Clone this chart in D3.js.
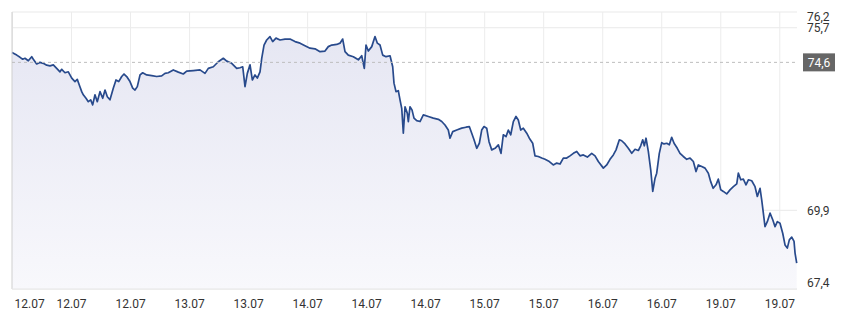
<!DOCTYPE html>
<html>
<head>
<meta charset="utf-8">
<script src="https://cdnjs.cloudflare.com/ajax/libs/d3/7.8.5/d3.min.js"></script>
<style>
  body { margin: 0; background: #fff; }
  .axis text { font-family: Roboto, sans-serif; font-size: 12px; fill: #333; }
  .axis .domain { display: none; }
</style>
</head>
<body>
<div id="chart"></div>
<script>
// x ticks: one label per grid interval
const tickLabels = ["12.07", "12.07", "12.07", "13.07", "13.07", "14.07", "14.07",
    "14.07", "15.07", "15.07", "16.07", "16.07", "19.07", "19.07"];
const yTicks = [76.2, 75.7, 69.9, 67.4];
const yDomain = [67.4, 76.2];
const refValue = 74.6;

// time in grid-interval units, price
const times = [
    0, 0.08, 0.136, 0.181, 0.22, 0.276, 0.334, 0.361, 0.418, 0.474, 0.53, 0.588, 0.644, 0.70, 0.757,
    0.813, 0.842, 0.898, 0.954, 1.012, 1.067, 1.106, 1.14, 1.181, 1.208, 1.254, 1.293, 1.333, 1.367,
    1.406, 1.445, 1.491, 1.537, 1.576, 1.615, 1.66, 1.716, 1.762, 1.808, 1.859, 1.898, 1.943, 1.999,
    2.045, 2.084, 2.123, 2.169, 2.214, 2.282, 2.367, 2.452, 2.536, 2.592, 2.648, 2.733, 2.818, 2.902,
    2.96, 3.072, 3.185,
    3.270, 3.326, 3.411, 3.495, 3.580, 3.638, 3.722, 3.807, 3.863, 3.909, 3.948, 3.987, 4.033, 4.072,
    4.117, 4.156, 4.202, 4.231, 4.270, 4.315, 4.371, 4.417, 4.473, 4.541, 4.626, 4.710, 4.795, 4.880,
    4.964, 5.049, 5.134, 5.219, 5.303, 5.359, 5.417, 5.502, 5.557, 5.603, 5.642, 5.698, 5.783, 5.868,
    5.925, 5.969, 5.998, 6.037, 6.095, 6.150, 6.190, 6.235, 6.281, 6.337, 6.405,
    6.450, 6.472, 6.506, 6.545, 6.574, 6.603, 6.630, 6.659, 6.698, 6.715, 6.743, 6.777, 6.811, 6.857,
    6.913, 6.969, 7.054, 7.138, 7.223, 7.281, 7.336, 7.392, 7.421, 7.467, 7.535, 7.619, 7.692, 7.748,
    7.789, 7.828, 7.874, 7.918, 7.958, 7.997, 8.043, 8.082, 8.128, 8.184, 8.240, 8.285, 8.324, 8.370,
    8.409, 8.450, 8.494, 8.539, 8.578, 8.619, 8.663, 8.721, 8.765, 8.822, 8.861, 8.917, 8.975, 9.031,
    9.104, 9.171, 9.229, 9.285, 9.341, 9.398, 9.454, 9.511, 9.568, 9.624, 9.680, 9.748, 9.822, 9.878,
    9.934,
    10.019, 10.076, 10.132, 10.188, 10.234, 10.290, 10.330, 10.386, 10.442, 10.500, 10.556, 10.612,
    10.652, 10.686, 10.713, 10.742, 10.781, 10.822, 10.856, 10.895, 10.923, 10.967, 11.008, 11.047,
    11.093, 11.137, 11.177, 11.217, 11.272, 11.318, 11.374, 11.432, 11.488, 11.544, 11.589, 11.628,
    11.686, 11.742, 11.798, 11.838, 11.879, 11.928, 11.967, 12.008, 12.052, 12.109, 12.165, 12.222,
    12.279, 12.306, 12.347, 12.391, 12.436, 12.476, 12.533, 12.589, 12.628, 12.674, 12.702, 12.730,
    12.758, 12.797, 12.843, 12.889, 12.928, 12.967, 13.012, 13.058, 13.097, 13.136, 13.170, 13.211,
    13.250, 13.267, 13.295
];
const prices = [
    74.91, 74.83, 74.76, 74.70, 74.73, 74.65, 74.78, 74.70, 74.55, 74.60, 74.57, 74.51, 74.49, 74.52,
    74.41, 74.30, 74.38, 74.27, 74.30, 74.10, 73.99, 74.06, 73.88, 73.67, 73.57, 73.46, 73.35, 73.41,
    73.25, 73.57, 73.35, 73.67, 73.46, 73.72, 73.51, 73.41, 73.78, 74.04, 73.99, 74.15, 74.23, 74.15,
    73.99, 73.78, 73.72, 73.83, 74.20, 74.27, 74.20, 74.18, 74.15, 74.17, 74.25, 74.27, 74.36, 74.29,
    74.23, 74.32, 74.34, 74.36,
    74.25, 74.41, 74.46, 74.62, 74.73, 74.64, 74.57, 74.41, 74.43, 74.46, 73.83, 74.25, 74.52, 74.04,
    74.20, 74.10, 74.30, 74.73, 75.15, 75.31, 75.42, 75.26, 75.37, 75.31, 75.34, 75.34, 75.26, 75.21,
    75.13, 75.05, 75.03, 74.94, 74.96, 75.10, 75.15, 75.17, 75.21, 75.34, 74.94, 74.83, 74.78, 74.68,
    74.81, 74.41, 75.15, 74.96, 75.10, 75.42, 75.21, 75.15, 74.83, 74.78, 74.81,
    74.46, 73.94, 73.67, 73.70, 73.41, 73.14, 72.35, 73.19, 72.98, 72.72, 73.19, 73.09, 72.83, 72.75,
    72.72, 72.93, 72.88, 72.83, 72.79, 72.72, 72.61, 72.45, 72.19, 72.40, 72.45, 72.51, 72.54, 72.56,
    72.35, 72.14, 71.87, 72.03, 72.45, 72.56, 72.51, 72.08, 71.82, 71.87, 71.98, 71.71, 72.30, 72.24,
    72.45, 72.30, 72.72, 72.88, 72.77, 72.45, 72.51, 72.35, 72.19, 72.03, 71.63, 71.61, 71.56, 71.52,
    71.45, 71.34, 71.40, 71.37, 71.56, 71.56, 71.63, 71.71, 71.77, 71.63, 71.66, 71.59, 71.71, 71.63,
    71.45,
    71.24, 71.34, 71.52, 71.66, 71.82, 72.14, 72.11, 72.01, 71.87, 71.71, 71.84, 71.80, 71.95, 72.14,
    71.95, 72.19, 71.77, 71.18, 70.50, 70.92, 71.08, 71.71, 72.05, 72.01, 72.03, 71.98, 72.22, 72.03,
    71.87, 71.71, 71.61, 71.52, 71.56, 71.45, 71.13, 71.34, 71.29, 71.24, 71.08, 70.81, 70.60, 70.71,
    70.89, 70.55, 70.50, 70.42, 70.55, 70.65, 70.74, 71.08, 70.87, 70.89, 70.71, 70.87, 70.84, 70.65,
    70.34, 70.60, 70.23, 69.81, 69.38, 69.54, 69.81, 69.60, 69.38, 69.54, 69.49, 69.17, 68.80, 68.70,
    68.96, 69.05, 68.91, 68.54, 68.22
];

const data = d3.zip(times, prices);

const margin = {top: 12, right: 46, bottom: 30, left: 12};
const width = 843 - margin.left - margin.right;
const height = 319 - margin.top - margin.bottom;

const svg = d3.select("#chart").append("svg")
    .attr("width", 843)
    .attr("height", 319)
    .append("g")
    .attr("transform", `translate(${margin.left},${margin.top})`);

const x = d3.scaleLinear().domain([0, 13.3]).range([0, width]);
const y = d3.scaleLinear().domain(yDomain).range([height, 0]);

// gradient for the area
const grad = svg.append("defs").append("linearGradient")
    .attr("id", "fill")
    .attr("gradientUnits", "userSpaceOnUse")
    .attr("x1", 0).attr("y1", 0).attr("x2", 0).attr("y2", height);
grad.append("stop").attr("offset", "0%").attr("stop-color", "#e4e5f2");
grad.append("stop").attr("offset", "100%").attr("stop-color", "#f8f8fc");

// horizontal grid
svg.append("g")
    .selectAll("line")
    .data(yTicks)
    .join("line")
    .attr("x1", 0).attr("x2", width)
    .attr("y1", d => y(d)).attr("y2", d => y(d))
    .attr("stroke", "#e9e9e9");

// x axis with vertical grid
const xAxis = svg.append("g")
    .attr("class", "axis x-axis")
    .attr("transform", `translate(0,${height})`)
    .call(d3.axisBottom(x)
        .tickValues(d3.range(tickLabels.length))
        .tickFormat(i => tickLabels[i])
        .tickSize(-height)
        .tickPadding(8));
xAxis.selectAll(".tick line").attr("stroke", "#ececec");
xAxis.selectAll(".tick text").attr("dy", "0.9em");
xAxis.select(".tick text").attr("text-anchor", "start").attr("dx", 2);

// area and line
svg.append("path")
    .datum(data)
    .attr("fill", "url(#fill)")
    .attr("d", d3.area().x(d => x(d[0])).y0(height).y1(d => y(d[1])));

svg.append("path")
    .datum(data)
    .attr("fill", "none")
    .attr("stroke", "#284a8c")
    .attr("stroke-width", 1.7)
    .attr("stroke-linejoin", "round")
    .attr("d", d3.line().x(d => x(d[0])).y(d => y(d[1])));

// left and bottom edges
svg.append("line").attr("x1", 0).attr("x2", 0).attr("y1", 0).attr("y2", height)
    .attr("stroke", "#cfcfcf");
svg.append("line").attr("x1", 0).attr("x2", width).attr("y1", height).attr("y2", height)
    .attr("stroke", "#e6e6e6");

// reference line
svg.append("line")
    .attr("x1", 0).attr("x2", width)
    .attr("y1", y(refValue)).attr("y2", y(refValue))
    .attr("stroke", "#bdbdbd")
    .attr("stroke-dasharray", "3,3");

// y labels, kept inside the plot height
const yAxis = svg.append("g")
    .attr("class", "axis y-axis")
    .attr("transform", `translate(${width + 10},0)`);
yAxis.selectAll("text")
    .data(yTicks)
    .join("text")
    .attr("x", 0)
    .attr("y", d => Math.min(height - 6, Math.max(5, y(d))))
    .attr("dy", "0.35em")
    .text(d => d3.format(".1f")(d).replace(".", ","));

const ref = svg.append("g").attr("transform", `translate(${width + 6},${y(refValue)})`);
ref.append("rect").attr("x", 0).attr("y", -9).attr("width", 32).attr("height", 18)
    .attr("fill", "#666");
ref.append("text")
    .attr("x", 16).attr("dy", "0.35em")
    .attr("text-anchor", "middle")
    .attr("font-family", "Roboto, sans-serif")
    .attr("font-size", 12)
    .attr("fill", "#fff")
    .text(d3.format(".1f")(refValue).replace(".", ","));
</script>
</body>
</html>
